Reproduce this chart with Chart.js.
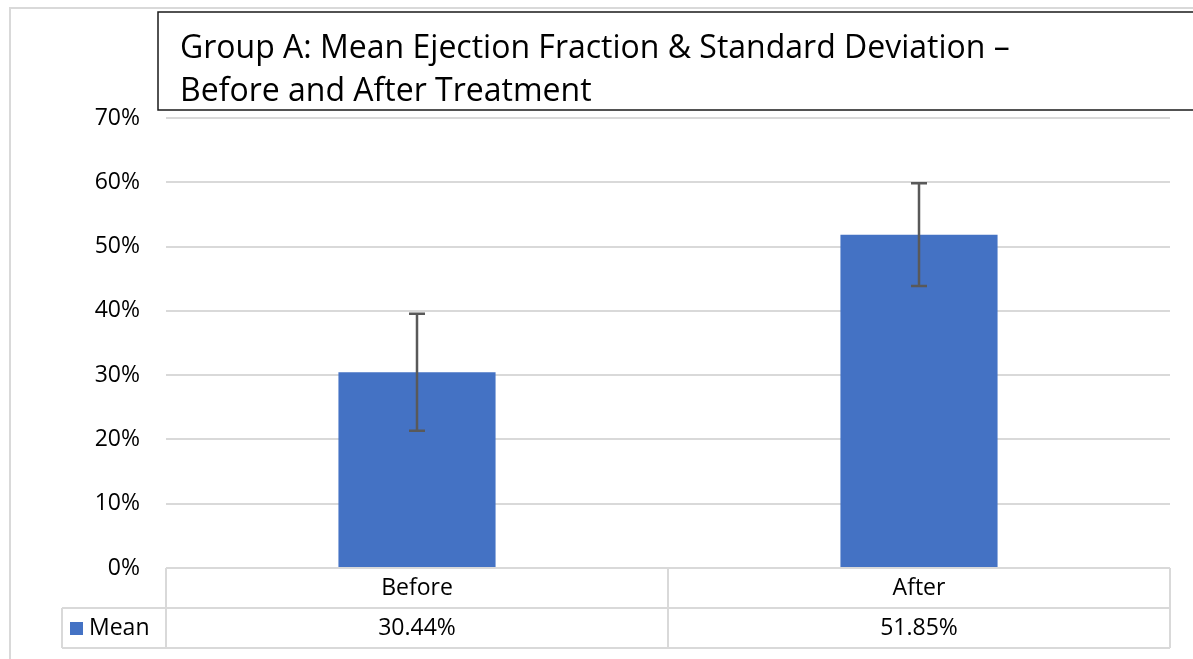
<!DOCTYPE html>
<html>
<head>
<meta charset="utf-8">
<script src="https://cdn.jsdelivr.net/npm/chart.js@4.4.1/dist/chart.umd.min.js"></script>
<style>
  html, body { margin: 0; padding: 0; background: #ffffff; }
  #wrap { width: 1193px; height: 659px; position: relative; }
</style>
</head>
<body>
<div id="wrap"><canvas id="c" width="1193" height="659"></canvas></div>
<script>
const titleLines = ["Group A: Mean Ejection Fraction & Standard Deviation \u2013", "Before and After Treatment"];
const categories = ["Before", "After"];
const seriesName = "Mean";
const meanValues = [30.44, 51.85];
const sdValues = [9.1, 8.0];
const tableLabels = ["30.44%", "51.85%"];
const yTicks = [0, 10, 20, 30, 40, 50, 60, 70];

const FONT = "'Open Sans', Lato, sans-serif";
const BAR = "#4472C4";
const GRID = "#d9d9d9";
const TXT = "#000000";

const decorPlugin = {
  id: 'decor',
  beforeDraw(chart) {
    const ctx = chart.ctx;
    ctx.save();
    ctx.fillStyle = '#fff';
    ctx.fillRect(0, 0, chart.width, chart.height);
    ctx.strokeStyle = GRID;
    ctx.lineWidth = 2;
    ctx.beginPath();
    ctx.moveTo(10, chart.height);
    ctx.lineTo(10, 8);
    ctx.lineTo(chart.width, 8);
    ctx.stroke();
    ctx.restore();
  },
  afterDatasetsDraw(chart) {
    const ctx = chart.ctx;
    const xs = chart.scales.x, ys = chart.scales.y;
    ctx.save();
    ctx.strokeStyle = '#595959';
    ctx.lineWidth = 2.5;
    meanValues.forEach((m, i) => {
      const x = xs.getPixelForValue(i);
      const yt = ys.getPixelForValue(m + sdValues[i]);
      const yb = ys.getPixelForValue(m - sdValues[i]);
      ctx.beginPath();
      ctx.moveTo(x, yt); ctx.lineTo(x, yb);
      ctx.moveTo(x - 8, yt); ctx.lineTo(x + 8, yt);
      ctx.moveTo(x - 8, yb); ctx.lineTo(x + 8, yb);
      ctx.stroke();
    });
    ctx.restore();
  },
  afterDraw(chart) {
    const ctx = chart.ctx;
    const ca = chart.chartArea;
    const xs = chart.scales.x;
    ctx.save();
    ctx.strokeStyle = '#1a1a1a';
    ctx.lineWidth = 1.5;
    ctx.strokeRect(158, 12, chart.width, 98);
    ctx.fillStyle = TXT;
    ctx.font = "32px " + FONT;
    ctx.textAlign = 'left';
    ctx.textBaseline = 'alphabetic';
    ctx.fillText(titleLines[0], 180, 58);
    ctx.fillText(titleLines[1], 180, 101);

    const rowH = 40;
    const top = ca.bottom;
    const mid = top + rowH;
    const bot = mid + rowH;
    const legLeft = 62;
    const bounds = [ca.left];
    for (let i = 0; i < categories.length - 1; i++) {
      bounds.push((xs.getPixelForValue(i) + xs.getPixelForValue(i + 1)) / 2);
    }
    bounds.push(ca.right);
    ctx.strokeStyle = GRID;
    ctx.lineWidth = 2;
    ctx.beginPath();
    ctx.moveTo(ca.left, top); ctx.lineTo(ca.right, top);
    ctx.moveTo(legLeft, mid); ctx.lineTo(ca.right, mid);
    ctx.moveTo(legLeft, bot); ctx.lineTo(ca.right, bot);
    ctx.moveTo(legLeft, mid); ctx.lineTo(legLeft, bot);
    bounds.forEach(b => { ctx.moveTo(b, top); ctx.lineTo(b, bot); });
    ctx.stroke();

    ctx.fillStyle = TXT;
    ctx.font = "23px " + FONT;
    ctx.textAlign = 'center';
    ctx.textBaseline = 'middle';
    categories.forEach((c, i) => {
      const x = xs.getPixelForValue(i);
      ctx.fillText(c, x, top + rowH / 2);
      ctx.fillText(tableLabels[i], x, mid + rowH / 2);
    });
    ctx.fillStyle = BAR;
    ctx.fillRect(70, mid + 14, 13, 13);
    ctx.fillStyle = TXT;
    ctx.textAlign = 'left';
    ctx.fillText(seriesName, 89, mid + rowH / 2);
    ctx.restore();
  }
};

new Chart(document.getElementById('c'), {
  type: 'bar',
  data: {
    labels: categories,
    datasets: [{
      label: seriesName,
      data: meanValues,
      backgroundColor: BAR,
      borderWidth: 0,
      barPercentage: 1.0,
      categoryPercentage: 0.313
    }]
  },
  options: {
    responsive: false,
    animation: false,
    devicePixelRatio: 1,
    layout: { padding: { left: 10, right: 23, top: 118, bottom: 11 } },
    plugins: {
      legend: { display: false },
      title: { display: false },
      tooltip: { enabled: false }
    },
    scales: {
      x: {
        grid: { display: false, drawTicks: false },
        border: { display: false },
        ticks: { display: false },
        afterFit(scale) { scale.height = 80; }
      },
      y: {
        min: 0, max: 70,
        afterBuildTicks(scale) { scale.ticks = yTicks.map(v => ({ value: v })); },
        afterFit(scale) { scale.width = 156; },
        grid: { color: GRID, lineWidth: 2, drawTicks: false },
        border: { display: false },
        ticks: {
          padding: 26,
          color: TXT,
          font: { family: FONT, size: 23 },
          callback: v => v + '%'
        }
      }
    }
  },
  plugins: [decorPlugin]
});
</script>
</body>
</html>
